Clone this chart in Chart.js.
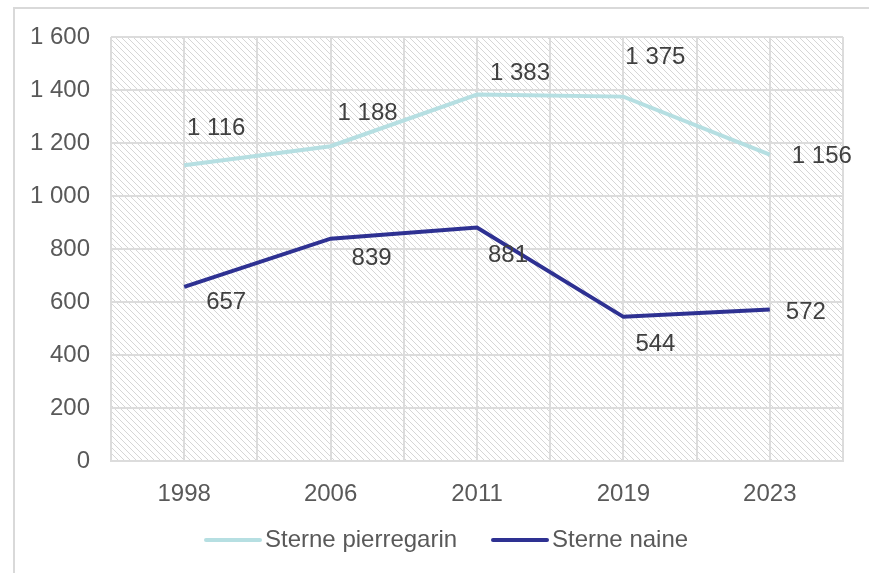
<!DOCTYPE html>
<html>
<head>
<meta charset="utf-8">
<script src="https://cdn.jsdelivr.net/npm/chart.js@4.4.1/dist/chart.umd.min.js"></script>
<style>
  html, body { margin: 0; padding: 0; background: #ffffff; }
  #wrap { width: 869px; height: 573px; }
</style>
</head>
<body>
<div id="wrap"><canvas id="terns"></canvas></div>
<script>
const years = ['1998', '2006', '2011', '2019', '2023'];
const pierregarin = [1116, 1188, 1383, 1375, 1156];
const naine = [657, 839, 881, 544, 572];
const yTicks = [0, 200, 400, 600, 800, 1000, 1200, 1400, 1600];

// where the value labels sit, relative to their point (px)
const pierreLabelShift = [[32, -37], [37, -33], [43, -21], [32, -39], [52, 2]];
const naineLabelShift = [[42, 15], [41, 20], [31, 28], [32, 28], [36, 3]];

const lightTeal = '#b6dfe2';
const deepBlue = '#2e3192';
const textGrey = '#595959';
const gridGrey = '#dcdcdc';
const FONT = "'Liberation Sans', Arial, sans-serif";

function spaced(n) {
    return String(n).replace(/\B(?=(\d{3})+(?!\d))/g, ' ');
}

function hatchPattern(ctx) {
    const tile = document.createElement('canvas');
    tile.width = 6;
    tile.height = 6;
    const t = tile.getContext('2d');
    t.fillStyle = '#ffffff';
    t.fillRect(0, 0, 6, 6);
    t.fillStyle = '#d6d6d6';
    for (let i = 0; i < 6; i++) {
        t.fillRect(i, i, 1, 1);
    }
    return ctx.createPattern(tile, 'repeat');
}

// hatched plot area + outer frame
const backdrop = {
    id: 'backdrop',
    beforeDraw(chart) {
        const ctx = chart.ctx;
        const a = chart.chartArea;
        ctx.save();
        ctx.strokeStyle = '#d9d9d9';
        ctx.lineWidth = 2;
        ctx.beginPath();
        ctx.moveTo(14, 573);
        ctx.lineTo(14, 8);
        ctx.lineTo(869, 8);
        ctx.stroke();
        ctx.fillStyle = hatchPattern(ctx);
        ctx.fillRect(a.left, a.top, a.right - a.left, a.bottom - a.top);
        ctx.restore();
    }
};

const valueLabels = {
    id: 'valueLabels',
    afterDatasetsDraw(chart) {
        const ctx = chart.ctx;
        const shifts = [pierreLabelShift, naineLabelShift];
        ctx.save();
        ctx.font = '24px ' + FONT;
        ctx.fillStyle = '#404040';
        ctx.textAlign = 'center';
        ctx.textBaseline = 'middle';
        chart.data.datasets.forEach((ds, d) => {
            chart.getDatasetMeta(d).data.forEach((pt, i) => {
                ctx.fillText(spaced(ds.data[i].y), pt.x + shifts[d][i][0], pt.y + shifts[d][i][1]);
            });
        });
        ctx.restore();
    }
};

const bottomLegend = {
    id: 'bottomLegend',
    afterDraw(chart) {
        const ctx = chart.ctx;
        const y = 540;
        const items = [
            { x: 206, label: 'Sterne pierregarin', color: lightTeal },
            { x: 493, label: 'Sterne naine', color: deepBlue }
        ];
        ctx.save();
        ctx.font = '24px ' + FONT;
        ctx.textBaseline = 'middle';
        ctx.textAlign = 'left';
        items.forEach(it => {
            ctx.strokeStyle = it.color;
            ctx.lineWidth = 4;
            ctx.lineCap = 'round';
            ctx.beginPath();
            ctx.moveTo(it.x, y);
            ctx.lineTo(it.x + 54, y);
            ctx.stroke();
            ctx.fillStyle = textGrey;
            ctx.fillText(it.label, it.x + 59, y);
        });
        ctx.restore();
    }
};

const ctx = document.getElementById('terns').getContext('2d');
new Chart(ctx, {
    type: 'line',
    data: {
        datasets: [{
            label: 'Sterne pierregarin',
            data: pierregarin.map((v, i) => ({ x: i, y: v })),
            borderColor: lightTeal,
            backgroundColor: lightTeal,
            borderWidth: 4,
            pointRadius: 0,
            tension: 0
        }, {
            label: 'Sterne naine',
            data: naine.map((v, i) => ({ x: i, y: v })),
            borderColor: deepBlue,
            backgroundColor: deepBlue,
            borderWidth: 4,
            pointRadius: 0,
            tension: 0
        }]
    },
    options: {
        responsive: true,
        maintainAspectRatio: false,
        animation: false,
        layout: { padding: { top: 37, right: 26, bottom: 62, left: 0 } },
        plugins: {
            legend: { display: false },
            tooltip: { enabled: false }
        },
        scales: {
            x: {
                type: 'linear',
                min: -0.5,
                max: 4.5,
                afterBuildTicks(scale) {
                    const t = [];
                    for (let v = -0.5; v <= 4.5; v += 0.5) t.push({ value: v });
                    scale.ticks = t;
                },
                afterFit(scale) { scale.height = 50; },
                ticks: {
                    autoSkip: false,
                    maxRotation: 0,
                    padding: 19,
                    color: textGrey,
                    font: { family: FONT, size: 24 },
                    callback: v => Number.isInteger(v) ? years[v] : ''
                },
                grid: { color: gridGrey, lineWidth: 2, drawTicks: false },
                border: { color: gridGrey, width: 2 }
            },
            y: {
                min: 0,
                max: 1600,
                afterBuildTicks(scale) {
                    scale.ticks = yTicks.map(v => ({ value: v }));
                },
                afterFit(scale) { scale.width = 111; },
                ticks: {
                    padding: 21,
                    color: textGrey,
                    font: { family: FONT, size: 24 },
                    callback: v => spaced(v)
                },
                grid: { color: gridGrey, lineWidth: 2, drawTicks: false },
                border: { display: false }
            }
        }
    },
    plugins: [backdrop, valueLabels, bottomLegend]
});
</script>
</body>
</html>
